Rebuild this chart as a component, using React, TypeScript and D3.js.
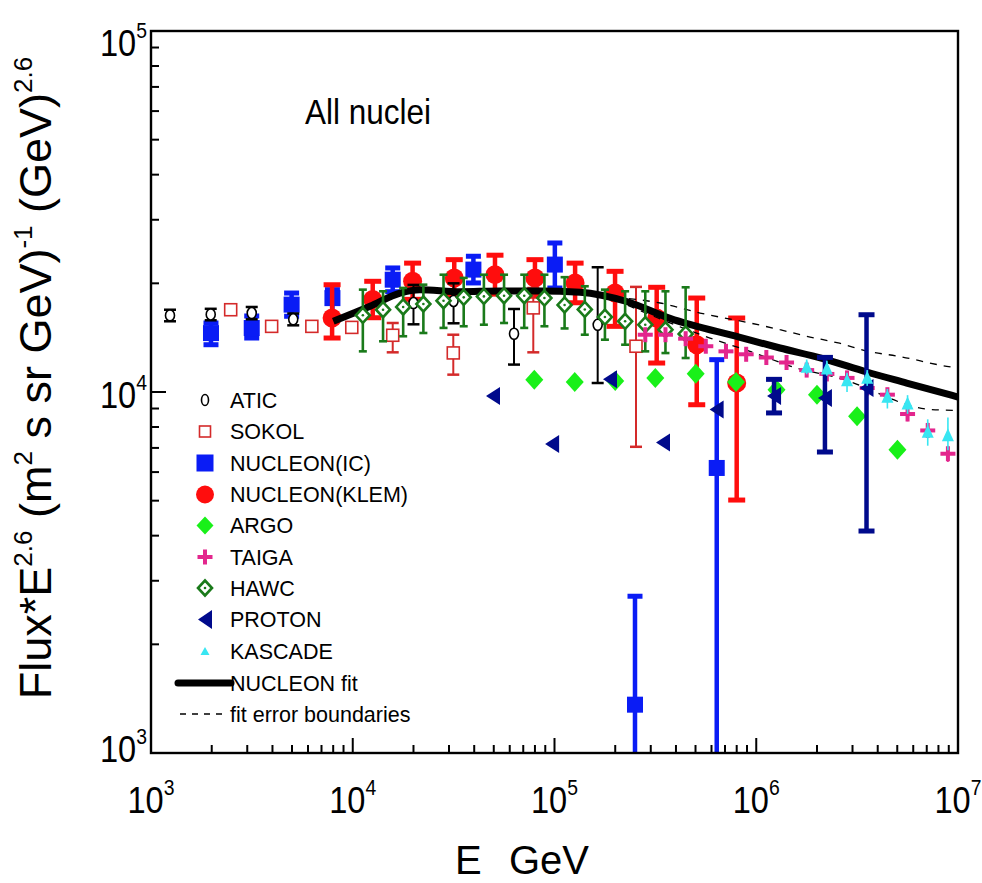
import React from "react";
import * as d3 from "d3";

const W = 982;
const H = 883;
const PL = 151, PR = 958, PT = 31, PB = 753;
const FONT = "Arial, 'Liberation Sans', Helvetica, sans-serif";

// ---------- data ----------
const aticE = [1242, 1977, 3157, 5070, 20000, 31600, 63000, 163700];
const aticF = [16300, 16400, 16550, 15900, 17640, 17870, 14500, 15350];
const aticLo = [15700, 15800, 15900, 15300, 15400, 15500, 11910, 10590];
const aticHi = [16900, 17000, 17200, 16500, 19800, 20000, 16980, 22160];

const sokolE = [2483, 3963, 6270, 9890, 15780, 31500, 78500, 253500];
const sokolF = [16900, 15200, 15200, 15100, 14360, 12830, 17100, 13390];
const sokolLo = [16900, 15200, 15200, 15100, 12880, 11170, 12880, 7050];
const sokolHi = [16900, 15200, 15200, 15100, 15530, 14410, 19410, 19550];

const icE = [1983, 3157, 4977, 7930, 15780, 39630, 100400, 250600, 637000];
const icF = [14560, 15040, 17460, 18200, 20470, 21830, 22540, 1361, 6160];
const icLo = [13520, 14110, 16210, 16030, 18960, 20050, 19410, 100, 100];
const icHi = [15530, 16240, 18800, 19210, 22060, 23770, 25870, 2718, 12290];

const klemE = [7900, 12560, 19800, 31850, 50700, 80000, 126500, 199600, 321000, 507000, 800000];
const klemF = [16030, 18030, 20270, 20700, 21140, 20700, 20050, 18800, 16030, 13520, 10590];
const klemLo = [14110, 16060, 18060, 18420, 18670, 18420, 17670, 15200, 12030, 9220, 5020];
const klemHi = [19820, 20260, 22750, 23260, 23930, 23260, 22750, 21590, 19500, 18210, 16030];

const argoE = [79400, 126000, 200000, 316000, 501000, 794000, 1260000, 2000000, 3160000, 5010000];
const argoF = [10820, 10660, 10730, 10940, 11240, 10660, 10150, 9830, 8565, 6920];

const taigaE = [281800, 354800, 446700, 562300, 707900, 891300, 1122000, 1413000, 1778000, 2239000, 2818000, 3548000, 4467000, 5623000, 7079000, 8913000];
const taigaF = [14410, 14410, 14050, 13390, 12960, 12720, 12460, 12070, 11500, 11220, 10940, 10260, 9830, 8690, 7825, 6745];
const taigaLo = [13900, 13900, 13550, 12900, 12480, 12250, 11980, 11600, 11050, 10780, 10500, 9850, 9420, 8300, 7450, 6400];
const taigaHi = [14930, 14930, 14560, 13890, 13450, 13200, 12950, 12550, 11960, 11670, 11390, 10680, 10250, 9090, 8220, 7100];

const hawcE = [11220, 14130, 17780, 22390, 28180, 35480, 44670, 56230, 70790, 89130, 112200, 141300, 177800, 223900, 281800, 354800, 446700];
const hawcF = [16310, 16900, 17200, 17530, 17900, 18290, 18400, 18480, 18480, 18210, 17420, 16930, 16130, 15700, 15360, 14880, 14480];
const hawcLo = [12960, 13820, 14270, 14570, 15050, 15210, 15360, 15530, 15050, 15210, 15000, 14410, 13960, 13520, 12960, 12820, 12420];
const hawcHi = [19210, 19010, 19420, 19830, 21130, 20700, 21130, 21130, 21130, 21130, 20800, 19630, 19210, 19010, 19010, 19010, 19500];

const protonE = [49550, 97300, 188400, 345000, 636000, 1225000, 2190000, 3520000];
const protonF = [9750, 7180, 10840, 7250, 8940, 9750, 9620, 10260];
const protonLo = [9750, 7180, 10840, 7250, 8940, 8750, 6820, 4120];
const protonHi = [9750, 7180, 10840, 7250, 8940, 10840, 12470, 16370];

const kascadeE = [1778000, 2239000, 2818000, 3548000, 4467000, 5623000, 7079000, 8913000];
const kascadeF = [11780, 11650, 10810, 10980, 9730, 9320, 7780, 7615];
const kascadeLo = [11200, 11100, 10000, 10400, 9000, 8700, 7100, 6900];
const kascadeHi = [12300, 12200, 11300, 11500, 10200, 9800, 8400, 8500];

const fitE = [8010, 12180, 17150, 21540, 34010, 53690, 84770, 133800, 228000, 373700, 830800, 1311000, 2142000, 3528000, 5568000, 10000000];
const fitF = [15700, 17280, 18800, 19210, 18960, 19050, 19050, 18900, 17810, 15990, 14170, 13240, 12370, 11360, 10590, 9685];

const upperE = [199500, 333400, 526300, 931100, 1311000, 1779000, 2549000, 3590000, 5056000, 8790000, 10000000];
const upperF = [18300, 17640, 16550, 15530, 14880, 14270, 13670, 12960, 12560, 11780, 11650];
const lowerE = [199500, 589800, 931100, 1587000, 2549000, 7261000, 10000000];
const lowerF = [17990, 14110, 12960, 11650, 10940, 8950, 8890];

const xTickExp = ["3", "4", "5", "6", "7"];
const yTickExp = ["3", "4", "5"];
const legendLabels = ["ATIC", "SOKOL", "NUCLEON(IC)", "NUCLEON(KLEM)", "ARGO", "TAIGA", "HAWC", "PROTON", "KASCADE", "NUCLEON fit", "fit error boundaries"];

// ---------- colours ----------
const C = {
  atic: "#000000",
  sokol: "#d42a2a",
  ic: "#0a1cf5",
  klem: "#ff0d0d",
  argo: "#19f019",
  taiga: "#e3268d",
  hawc: "#1a7a1a",
  proton: "#000a8c",
  kascade: "#38e6f2",
};

// ---------- marker shapes ----------
const diamond = (cx: number, cy: number, rx: number, ry: number) =>
  `M${cx},${cy - ry}L${cx + rx},${cy}L${cx},${cy + ry}L${cx - rx},${cy}Z`;
const triLeft = (cx: number, cy: number, w: number, h: number) =>
  `M${cx - w / 2},${cy}L${cx + w / 2},${cy - h / 2}L${cx + w / 2},${cy + h / 2}Z`;
const triUp = (cx: number, cy: number, w: number, h: number) =>
  `M${cx},${cy - h / 2}L${cx + w / 2},${cy + h / 2}L${cx - w / 2},${cy + h / 2}Z`;

function Marker({ kind, cx, cy, legend }: { kind: string; cx: number; cy: number; legend?: boolean }) {
  switch (kind) {
    case "atic":
      return <ellipse cx={cx} cy={cy} rx={legend ? 3.5 : 4.5} ry={legend ? 5.5 : 5.5} fill="#fff" stroke={C.atic} strokeWidth={1.6} />;
    case "sokol":
      return <rect x={cx - (legend ? 5.5 : 6)} y={cy - (legend ? 5.5 : 6)} width={legend ? 11 : 12} height={legend ? 11 : 12} fill="#fff" stroke={C.sokol} strokeWidth={1.6} />;
    case "ic": {
      const s = legend ? 17 : 16;
      return <rect x={cx - s / 2} y={cy - s / 2} width={s} height={s} fill={C.ic} />;
    }
    case "klem":
      return <circle cx={cx} cy={cy} r={legend ? 9 : 9.5} fill={C.klem} />;
    case "argo":
      return <path d={diamond(cx, cy, legend ? 8.5 : 9, legend ? 9 : 10)} fill={C.argo} />;
    case "taiga": {
      const a = 7.5;
      const t = 4;
      return (
        <g fill={C.taiga}>
          <rect x={cx - a} y={cy - t / 2} width={2 * a} height={t} />
          <rect x={cx - t / 2} y={cy - a} width={t} height={2 * a} />
        </g>
      );
    }
    case "hawc":
      return (
        <g>
          <path d={diamond(cx, cy, 7, 7.5)} fill="#fff" stroke={C.hawc} strokeWidth={2.6} />
          <circle cx={cx} cy={cy} r={1.3} fill={C.hawc} />
        </g>
      );
    case "proton":
      return <path d={triLeft(cx, cy, 14, legend ? 19 : 18)} fill={C.proton} />;
    case "kascade":
      return <path d={triUp(cx, cy, legend ? 9 : 12, legend ? 8 : 13)} fill={C.kascade} />;
    default:
      return null;
  }
}

export default function App() {
  const x = d3.scaleLog().domain([1e3, 1e7]).range([PL, PR]);
  const y = d3.scaleLog().domain([1e3, 1e5]).range([PB, PT]);

  const errBar = (
    key: string,
    e: number,
    lo: number,
    hi: number,
    color: string,
    sw: number,
    capW: number,
    capSw: number
  ) => {
    if (lo === hi) return null;
    const cx = x(e);
    const y1 = y(hi);
    const y2 = y(lo);
    return (
      <g key={key} stroke={color}>
        <line x1={cx} x2={cx} y1={y1} y2={y2} strokeWidth={sw} />
        {capW > 0 && <line x1={cx - capW / 2} x2={cx + capW / 2} y1={y1} y2={y1} strokeWidth={capSw} />}
        {capW > 0 && y2 <= PB && <line x1={cx - capW / 2} x2={cx + capW / 2} y1={y2} y2={y2} strokeWidth={capSw} />}
      </g>
    );
  };

  const series = (
    name: string,
    E: number[],
    F: number[],
    Lo: number[] | null,
    Hi: number[] | null,
    color: string,
    sw: number,
    capW: number,
    capSw: number
  ) => (
    <g key={name}>
      {Lo && Hi && E.map((e, i) => errBar(`${name}e${i}`, e, Lo[i], Hi[i], color, sw, capW, capSw))}
      {E.map((e, i) => (
        <Marker key={`${name}m${i}`} kind={name} cx={x(e)} cy={y(F[i])} />
      ))}
    </g>
  );

  const line = d3
    .line<[number, number]>()
    .x((d) => x(d[0]))
    .y((d) => y(d[1]))
    .curve(d3.curveMonotoneX);

  const fitPath = line(fitE.map((e, i) => [e, fitF[i]] as [number, number])) || "";
  const upPath = line(upperE.map((e, i) => [e, upperF[i]] as [number, number])) || "";
  const loPath = line(lowerE.map((e, i) => [e, lowerF[i]] as [number, number])) || "";

  const decadesX = [1e3, 1e4, 1e5, 1e6, 1e7];
  const minorX: number[] = [];
  for (let d = 0; d < 4; d++) for (let m = 2; m <= 9; m++) minorX.push(m * decadesX[d]);
  const decadesY = [1e3, 1e4, 1e5];
  const minorY: number[] = [];
  for (let d = 0; d < 2; d++) for (let m = 2; m <= 9; m++) minorY.push(m * decadesY[d]);

  const yLabelBase = [762, 408, 56];

  const legendY = [400, 431.5, 463, 494.5, 525.5, 557, 588, 619.5, 651, 683, 714];
  const legendKinds = ["atic", "sokol", "ic", "klem", "argo", "taiga", "hawc", "proton", "kascade"];

  return (
    <svg
      width={W}
      height={H}
      style={{ position: "absolute", left: 0, top: 0, background: "#fff" }}
      fontFamily={FONT}
    >
      <rect x={0} y={0} width={W} height={H} fill="#fff" />
      <defs>
        <clipPath id="plotClip">
          <rect x={PL} y={PT} width={PR - PL} height={PB - PT} />
        </clipPath>
      </defs>

      <g clipPath="url(#plotClip)">
        {series("ic", icE, icF, icLo, icHi, C.ic, 4.5, 15, 5)}
        {series("klem", klemE, klemF, klemLo, klemHi, C.klem, 4.5, 17, 5)}
        {series("sokol", sokolE, sokolF, sokolLo, sokolHi, C.sokol, 2, 12, 2.5)}
        {series("atic", aticE, aticF, aticLo, aticHi, C.atic, 2, 12, 2.5)}
        <path d={fitPath} fill="none" stroke="#000" strokeWidth={7} strokeLinejoin="round" />
        <path d={upPath} fill="none" stroke="#000" strokeWidth={1.3} strokeDasharray="7,7" />
        <path d={loPath} fill="none" stroke="#000" strokeWidth={1.3} strokeDasharray="7,7" />
        {series("hawc", hawcE, hawcF, hawcLo, hawcHi, C.hawc, 2.6, 8, 2.6)}
        {series("argo", argoE, argoF, null, null, C.argo, 0, 0, 0)}
        {series("taiga", taigaE, taigaF, taigaLo, taigaHi, C.taiga, 1.6, 0, 0)}
        {series("proton", protonE, protonF, protonLo, protonHi, C.proton, 4.5, 16, 5)}
        {series("kascade", kascadeE, kascadeF, kascadeLo, kascadeHi, C.kascade, 1.6, 0, 0)}
      </g>

      <rect x={PL} y={PT} width={PR - PL} height={PB - PT} fill="none" stroke="#000" strokeWidth={2.4} />

      <g stroke="#000" strokeWidth={2}>
        {decadesX.map((v) => (
          <line key={`xM${v}`} x1={x(v)} x2={x(v)} y1={PB} y2={PB - 15} />
        ))}
        {minorX.map((v) => (
          <line key={`xm${v}`} x1={x(v)} x2={x(v)} y1={PB} y2={PB - 8} />
        ))}
        {decadesY.map((v) => (
          <line key={`yM${v}`} x1={PL} x2={PL + 15} y1={y(v)} y2={y(v)} />
        ))}
        {minorY.map((v) => (
          <line key={`ym${v}`} x1={PL} x2={PL + 8} y1={y(v)} y2={y(v)} />
        ))}
      </g>

      {decadesX.map((v, i) => (
        <g key={`xl${v}`} transform={`translate(${x(v)},813) scale(0.88,1)`}>
          <text textAnchor="middle" fontSize={37} fill="#000">
            10
            <tspan dy={-18} fontSize={22}>
              {xTickExp[i]}
            </tspan>
          </text>
        </g>
      ))}

      {decadesY.map((v, i) => (
        <g key={`yl${v}`} transform={`translate(147,${yLabelBase[i]}) scale(0.88,1)`}>
          <text textAnchor="end" fontSize={37} fill="#000">
            10
            <tspan dy={-18} fontSize={22}>
              {yTickExp[i]}
            </tspan>
          </text>
        </g>
      ))}

      <text transform="translate(51,378) rotate(-90)" textAnchor="middle" fontSize={45} fill="#000">
        Flux*E
        <tspan dy={-19} fontSize={26}>2.6</tspan>
        <tspan dy={19}> (m</tspan>
        <tspan dy={-19} fontSize={26}>2</tspan>
        <tspan dy={19}> s sr GeV)</tspan>
        <tspan dy={-19} fontSize={26}>-1</tspan>
        <tspan dy={19}> (GeV)</tspan>
        <tspan dy={-19} fontSize={26}>2.6</tspan>
      </text>
      <text x={455} y={874} fontSize={40} fill="#000">E</text>
      <text x={509} y={874} fontSize={40} fill="#000">GeV</text>

      <g transform="translate(305,124) scale(0.9,1)">
        <text fontSize={35} fill="#000">All nuclei</text>
      </g>

      {legendKinds.map((k, i) => (
        <Marker key={`lg${k}`} kind={k} cx={205} cy={legendY[i]} legend />
      ))}
      <line x1={178} x2={231} y1={legendY[9]} y2={legendY[9]} stroke="#000" strokeWidth={7} strokeLinecap="round" />
      <line x1={180} x2={226} y1={legendY[10]} y2={legendY[10]} stroke="#000" strokeWidth={1.3} strokeDasharray="6,6" />
      {legendLabels.map((t, i) => (
        <text key={`lt${t}`} x={230} y={legendY[i] + 7.5} fontSize={21.5} fill="#000">
          {t}
        </text>
      ))}
    </svg>
  );
}
